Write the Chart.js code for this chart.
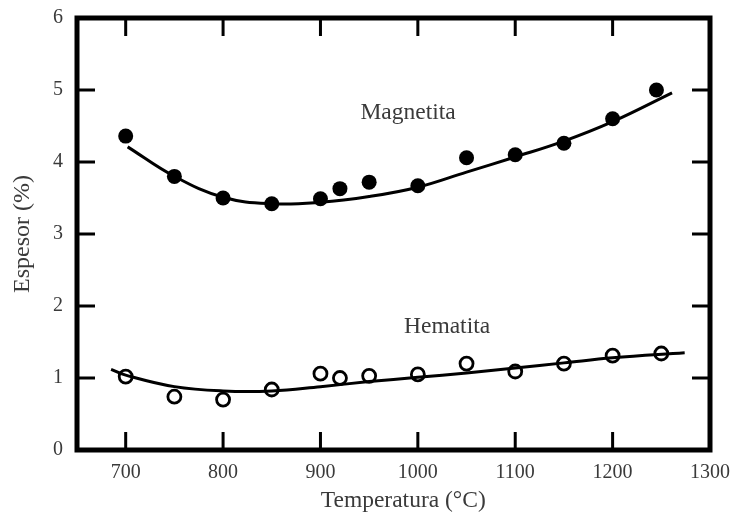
<!DOCTYPE html>
<html>
<head>
<meta charset="utf-8">
<script src="https://cdn.jsdelivr.net/npm/chart.js@4/dist/chart.umd.min.js"></script>
<style>
  html, body { margin: 0; padding: 0; background: #fff; }
  #wrap { width: 734px; height: 515px; }
</style>
</head>
<body>
<div id="wrap"><canvas id="myChart"></canvas></div>
<script>
'use strict';

// Data points
var tempMag = [700, 750, 800, 850, 900, 920, 950, 1000, 1050, 1100, 1150, 1200, 1245];
var espMag = [4.36, 3.8, 3.5, 3.42, 3.49, 3.63, 3.72, 3.67, 4.06, 4.1, 4.26, 4.6, 5.0];

var tempHem = [700, 750, 800, 850, 900, 920, 950, 1000, 1050, 1100, 1150, 1200, 1250];
var espHem = [1.02, 0.74, 0.7, 0.84, 1.06, 1.0, 1.03, 1.05, 1.2, 1.09, 1.2, 1.31, 1.34];

// Fitted curves
var fitTempMag = [702, 750, 800, 850, 900, 950, 1000, 1050, 1100, 1150, 1200, 1261];
var fitMag = [4.21, 3.8, 3.51, 3.42, 3.44, 3.52, 3.65, 3.86, 4.07, 4.29, 4.56, 4.96];

var fitTempHem = [685, 700, 750, 800, 850, 900, 950, 1000, 1050, 1100, 1150, 1200, 1274];
var fitHem = [1.12, 1.04, 0.88, 0.82, 0.82, 0.88, 0.95, 1.01, 1.07, 1.14, 1.21, 1.28, 1.35];

// Axis ticks
var xTicks = [700, 800, 900, 1000, 1100, 1200, 1300];
var yTicks = [0, 1, 2, 3, 4, 5, 6];

var textColor = '#3a3a3a';
var serif = 'Liberation Serif';

function pairs(xs, ys) {
  return xs.map(function(x, i) { return { x: x, y: ys[i] }; });
}

// Frame with inward ticks, curve labels and x title
var framePlugin = {
  id: 'frame',
  afterDraw: function(chart) {
    var ctx = chart.ctx;
    var a = chart.chartArea;
    var sx = chart.scales.x;
    var sy = chart.scales.y;
    var len = 18;
    ctx.save();
    ctx.strokeStyle = '#000';
    ctx.lineWidth = 3;
    ctx.beginPath();
    xTicks.forEach(function(v) {
      var px = sx.getPixelForValue(v);
      ctx.moveTo(px, a.bottom);
      ctx.lineTo(px, a.bottom - len);
      ctx.moveTo(px, a.top);
      ctx.lineTo(px, a.top + len);
    });
    yTicks.forEach(function(v) {
      var py = sy.getPixelForValue(v);
      ctx.moveTo(a.left, py);
      ctx.lineTo(a.left + len, py);
      ctx.moveTo(a.right, py);
      ctx.lineTo(a.right - len, py);
    });
    ctx.stroke();
    ctx.lineWidth = 5;
    ctx.strokeRect(a.left, a.top, a.right - a.left, a.bottom - a.top);

    ctx.fillStyle = textColor;
    ctx.font = '23.5px "' + serif + '"';
    ctx.textAlign = 'center';
    ctx.textBaseline = 'middle';
    ctx.fillText('Magnetita', sx.getPixelForValue(990), sy.getPixelForValue(4.68));
    ctx.fillText('Hematita', sx.getPixelForValue(1030), sy.getPixelForValue(1.71));
    ctx.fillText('Temperatura (°C)', sx.getPixelForValue(985), a.bottom + 51);
    ctx.restore();
  }
};

var ctx = document.getElementById('myChart').getContext('2d');

var chart = new Chart(ctx, {
  type: 'scatter',
  data: {
    datasets: [
      {
        label: 'Magnetita',
        data: pairs(tempMag, espMag),
        pointStyle: 'circle',
        pointRadius: 7.5,
        pointBackgroundColor: '#000',
        pointBorderColor: '#000',
        pointBorderWidth: 0
      },
      {
        label: 'Hematita',
        data: pairs(tempHem, espHem),
        pointStyle: 'circle',
        pointRadius: 6.5,
        pointBackgroundColor: 'rgba(0,0,0,0)',
        pointBorderColor: '#000',
        pointBorderWidth: 2.8
      },
      {
        label: 'Ajuste magnetita',
        data: pairs(fitTempMag, fitMag),
        showLine: true,
        pointRadius: 0,
        borderColor: '#000',
        borderWidth: 3,
        tension: 0.4
      },
      {
        label: 'Ajuste hematita',
        data: pairs(fitTempHem, fitHem),
        showLine: true,
        pointRadius: 0,
        borderColor: '#000',
        borderWidth: 3,
        tension: 0.4
      }
    ]
  },
  options: {
    responsive: true,
    maintainAspectRatio: false,
    animation: false,
    events: [],
    layout: { padding: { top: 18, right: 24, left: 0, bottom: 0 } },
    plugins: {
      legend: { display: false },
      tooltip: { enabled: false }
    },
    scales: {
      x: {
        type: 'linear',
        min: 650,
        max: 1300,
        grid: { display: false, drawTicks: false },
        border: { display: false },
        afterBuildTicks: function(scale) {
          scale.ticks = xTicks.map(function(v) { return { value: v }; });
        },
        afterFit: function(scale) {
          scale.height = 65;
          scale.paddingLeft = 0;
          scale.paddingRight = 0;
        },
        ticks: {
          color: textColor,
          padding: 11,
          maxRotation: 0,
          font: { family: serif, size: 20 },
          callback: function(v) { return String(v); }
        }
      },
      y: {
        type: 'linear',
        min: 0,
        max: 6,
        grid: { display: false, drawTicks: false },
        border: { display: false },
        afterBuildTicks: function(scale) {
          scale.ticks = yTicks.map(function(v) { return { value: v }; });
        },
        afterFit: function(scale) {
          scale.width = 77;
          scale.paddingTop = 0;
          scale.paddingBottom = 0;
        },
        ticks: {
          color: textColor,
          padding: 14,
          font: { family: serif, size: 20 },
          callback: function(v) { return String(v); }
        },
        title: {
          display: true,
          text: 'Espesor (%)',
          color: textColor,
          padding: { top: 8, bottom: 0 },
          font: { family: serif, size: 24 }
        }
      }
    }
  },
  plugins: [framePlugin]
});
</script>
</body>
</html>
